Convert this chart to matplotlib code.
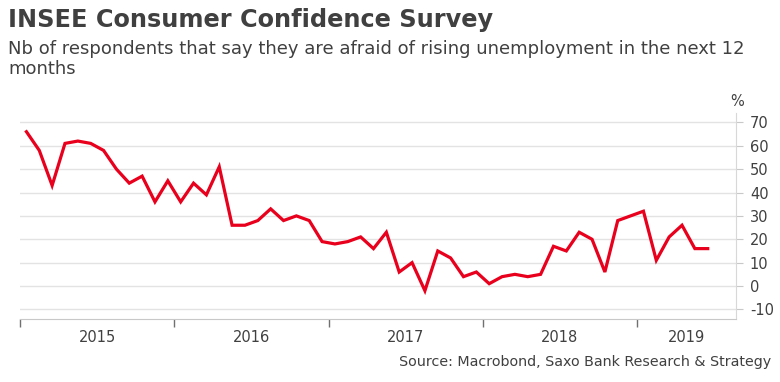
import numpy as np
import matplotlib
matplotlib.use("Agg")
from matplotlib import pyplot as plt

# monthly values, Jan 2015 - Jun 2019
values = [66, 58, 43, 61, 62, 61, 58, 50, 44, 47, 36, 45,
          36, 44, 39, 51, 26, 26, 28, 33, 28, 30, 28, 19,
          18, 19, 21, 16, 23, 6, 10, -2, 15, 12, 4, 6,
          1, 4, 5, 4, 5, 17, 15, 23, 20, 6, 28, 30,
          32, 11, 21, 26, 16, 16]
years = ['2015', '2016', '2017', '2018', '2019']
y_ticks = [-10, 0, 10, 20, 30, 40, 50, 60, 70]

text_color = '#404040'
grid_color = '#e3e3e3'
line_color = '#e8001c'

plt.rcParams['font.family'] = ['DejaVu Sans']

fig = plt.figure(figsize=(7.8, 3.82), dpi=100)
ax = fig.add_axes([20 / 780, 1 - 319 / 382, 716 / 780, 206 / 382])

# months plotted mid-month
x = np.arange(len(values)) + 0.5
ax.plot(x, values, color=line_color, lw=2.3, solid_joinstyle='miter')

ax.set_xlim(0, 55.7)
ax.set_ylim(-14.1, 74)

ax.yaxis.tick_right()
ax.set_yticks(y_ticks)
ax.set_yticklabels([str(v) for v in y_ticks])
ax.tick_params(axis='y', length=5, width=0.8, color='#c8c8c8', pad=5,
               labelsize=10.5, labelcolor=text_color)
ax.grid(axis='y', color=grid_color, lw=1)
ax.set_axisbelow(True)

# year ticks at boundaries, labels centred between them
ax.set_xticks([0, 12, 24, 36, 48])
ax.set_xticklabels([])
ax.set_xticks([6, 18, 30, 42, 51.85], minor=True)
ax.set_xticklabels(years, minor=True)
ax.tick_params(axis='x', which='major', length=6, width=1, color='#707070')
ax.tick_params(axis='x', which='minor', length=0, pad=8,
               labelsize=10.5, labelcolor=text_color)

for side in ['top', 'left']:
    ax.spines[side].set_visible(False)
ax.spines['bottom'].set_color('#c8c8c8')
ax.spines['right'].set_color('#d8d8d8')

fig.text(8 / 780, 1 - 20 / 382, 'INSEE Consumer Confidence Survey',
         fontsize=17.3, fontweight='bold', color=text_color, va='center')
fig.text(8 / 780, 1 - 59 / 382,
         'Nb of respondents that say they are afraid of rising unemployment in the next 12\nmonths',
         fontsize=13, color=text_color, va='center', linespacing=1.1)
fig.text(737 / 780, 1 - 102 / 382, '%', fontsize=10.5, color=text_color,
         ha='center', va='center')
fig.text(771 / 780, 1 - 362 / 382,
         'Source: Macrobond, Saxo Bank Research & Strategy',
         fontsize=10.3, color=text_color, ha='right', va='center')

fig.savefig('out.png', dpi=100, facecolor='white')
